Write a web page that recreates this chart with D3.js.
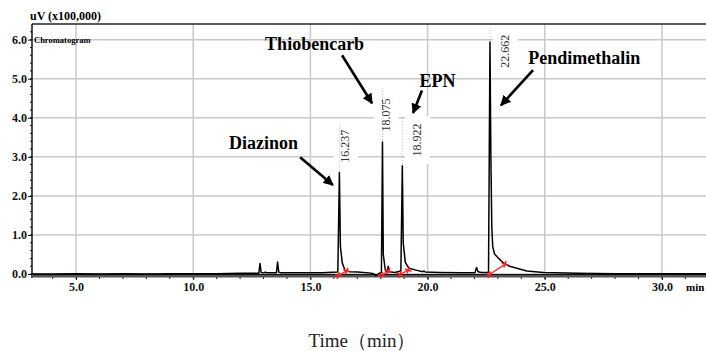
<!DOCTYPE html>
<html>
  <head>
    <meta charset="utf-8">
    <title>Chromatogram</title>
    <style>
      body { margin: 0; background: #fff; }
      svg { display: block; }
    </style>
  </head>
  <body>
    <div id="chart"></div>
    <script src="https://d3js.org/d3.v7.min.js"></script>
    <script>
      // trace: retention time (min) / signal (x100,000 uV)
      var times  = [3.12, 4.0, 5.0, 6.0, 7.0, 8.0, 9.0, 10.0, 11.0, 12.0,
                    12.8, 12.85, 12.9, 13.0, 13.07, 13.12, 13.55, 13.6, 13.65, 13.75,
                    14.5, 15.5, 16.17, 16.237, 16.28, 16.36, 16.48, 16.7, 17.0, 17.5,
                    17.7, 17.78, 17.88, 18.03, 18.075, 18.11, 18.2, 18.28, 18.32, 18.36,
                    18.6, 18.86, 18.922, 18.96, 19.05, 19.2, 19.5, 19.8, 19.85, 19.9,
                    20.5, 21.5, 22.02, 22.09, 22.15, 22.3, 22.6, 22.662, 22.7, 22.74,
                    22.78, 22.85, 23.0, 23.2, 23.5, 24.23, 24.94, 26.4, 28.0, 30.0, 31.88];
      var signal = [0.0, 0.0, 0.01, 0.0, 0.01, 0.0, 0.01, 0.01, 0.01, 0.02,
                    0.02, 0.27, 0.04, 0.03, 0.05, 0.03, 0.03, 0.31, 0.05, 0.03,
                    0.03, 0.03, 0.05, 2.6, 0.7, 0.28, 0.09, 0.06, 0.05, 0.03,
                    0.01, -0.04, 0.0, 0.05, 3.38, 0.5, 0.08, 0.06, 0.2, 0.06,
                    0.04, 0.08, 2.77, 0.8, 0.3, 0.15, 0.1, 0.06, 0.08, 0.05,
                    0.04, 0.03, 0.03, 0.17, 0.06, 0.04, 0.04, 5.94, 3.0, 1.2,
                    0.7, 0.52, 0.42, 0.3, 0.2, 0.08, 0.04, 0.02, 0.01, 0.01, 0.01];

      // identified peaks
      var compounds = ["Diazinon", "Thiobencarb", "EPN", "Pendimethalin"];
      var rt        = [16.237, 18.075, 18.922, 22.662];
      var apex      = [2.6, 3.38, 2.77, 5.94];
      var rtText    = ["16.237", "18.075", "18.922", "22.662"];

      // integration baseline (start / end of each peak)
      var startT = [16.19, 18.04, 18.82, 22.63],
          startV = [-0.04, -0.04, -0.01, -0.02],
          endT   = [16.55, 18.33, 19.18, 23.3],
          endV   = [0.08, 0.08, 0.1, 0.25];

      var xTicks = [5, 10, 15, 20, 25, 30];
      var yTicks = [0, 1, 2, 3, 4, 5, 6];

      var W = 706, H = 351;
      var pL = 32, pR = 706, pT = 24, pB = 276;

      var x = d3.scaleLinear().domain([3.12, 31.88]).range([pL, pR]);
      var y = d3.scaleLinear().domain([-0.05, 6.4]).range([pB, pT]);

      var svg = d3.select("#chart").append("svg")
          .attr("width", W).attr("height", H);

      var serif = "'Liberation Serif', 'Times New Roman', serif";

      // grid
      svg.append("g").selectAll("line").data(xTicks).enter().append("line")
          .attr("x1", d => x(d)).attr("x2", d => x(d))
          .attr("y1", pT).attr("y2", pB)
          .attr("stroke", "#c8c8c8").attr("stroke-width", 1.5);
      svg.append("g").selectAll("line").data(yTicks).enter().append("line")
          .attr("x1", pL).attr("x2", pR)
          .attr("y1", d => y(d)).attr("y2", d => y(d))
          .attr("stroke", "#c8c8c8").attr("stroke-width", 1.5);

      // frame
      svg.append("line").attr("x1", pL).attr("x2", pR).attr("y1", pT).attr("y2", pT)
          .attr("stroke", "#222").attr("stroke-width", 1.5);
      svg.append("line").attr("x1", pL).attr("x2", pL).attr("y1", pT).attr("y2", pB + 2)
          .attr("stroke", "#111").attr("stroke-width", 1.5);

      // y axis
      var yAxis = d3.axisLeft(y).tickValues(yTicks).tickSize(4).tickFormat(d3.format(".1f"));
      var gY = svg.append("g").attr("transform", "translate(" + pL + ",0)").call(yAxis);
      gY.select(".domain").remove();
      gY.selectAll("text").style("font-family", serif).style("font-weight", "bold")
          .style("font-size", "12px").attr("x", -5).attr("fill", "#111");
      gY.selectAll("line").attr("stroke", "#111");
      var yMinor = d3.range(0, 32).map(d => d * 0.2);
      svg.append("g").selectAll("line").data(yMinor).enter().append("line")
          .attr("x1", pL - 2).attr("x2", pL)
          .attr("y1", d => y(d)).attr("y2", d => y(d))
          .attr("stroke", "#111").attr("stroke-width", 1);

      // x axis
      var xAxis = d3.axisBottom(x).tickValues(xTicks).tickSize(3).tickFormat(d3.format(".1f"));
      var gX = svg.append("g").attr("transform", "translate(0," + (pB + 1) + ")").call(xAxis);
      gX.select(".domain").remove();
      gX.selectAll("text").style("font-family", serif).style("font-weight", "bold")
          .style("font-size", "12px").attr("y", 5).attr("fill", "#111");
      gX.selectAll("line").attr("stroke", "#111");
      svg.append("g").selectAll("line").data(d3.range(4, 32)).enter().append("line")
          .attr("x1", d => x(d)).attr("x2", d => x(d))
          .attr("y1", pB + 1).attr("y2", pB + 3)
          .attr("stroke", "#111").attr("stroke-width", 1);
      svg.append("line").attr("x1", pL).attr("x2", pR)
          .attr("y1", pB).attr("y2", pB)
          .attr("stroke", "#555").attr("stroke-width", 3);
      svg.append("line").attr("x1", pL).attr("x2", pR)
          .attr("y1", pB - 1.5).attr("y2", pB - 1.5)
          .attr("stroke", "#111").attr("stroke-width", 1);

      svg.append("text").attr("x", 686).attr("y", 291)
          .style("font-family", serif).style("font-weight", "bold").style("font-size", "11px")
          .text("min");
      svg.append("text").attr("x", 30).attr("y", 20)
          .style("font-family", serif).style("font-weight", "bold").style("font-size", "12px")
          .text("uV (x100,000)");
      svg.append("text").attr("x", 34).attr("y", 43)
          .style("font-family", serif).style("font-weight", "bold").style("font-size", "8.5px")
          .text("Chromatogram");

      // trace
      var pts = times.map((t, i) => [t, signal[i]]);
      svg.append("path").datum(pts)
          .attr("fill", "none").attr("stroke", "#000").attr("stroke-width", 1.5)
          .attr("stroke-linejoin", "round")
          .attr("d", d3.line().x(d => x(d[0])).y(d => y(d[1])));

      // integration baseline
      var integ = svg.append("g");
      rt.forEach(function(r, i) {
        integ.append("line")
            .attr("x1", x(startT[i])).attr("y1", y(startV[i]))
            .attr("x2", x(endT[i])).attr("y2", y(endV[i]))
            .attr("stroke", "#ff2020").attr("stroke-width", 1.3);
        [[startT[i], startV[i]], [endT[i], endV[i]]].forEach(function(p) {
          var g = integ.append("g")
              .attr("transform", "translate(" + x(p[0]) + "," + y(p[1]) + ") rotate(20)");
          g.append("line").attr("x1", -3.5).attr("x2", 3.5).attr("y1", 0).attr("y2", 0)
              .attr("stroke", "#ff2020").attr("stroke-width", 1.5);
          g.append("line").attr("x1", 0).attr("x2", 0).attr("y1", -3.5).attr("y2", 3.5)
              .attr("stroke", "#ff2020").attr("stroke-width", 1.5);
        });
      });

      // retention time labels (layout in data units, placed beside each apex)
      var rtLabelT = [16.48, 18.22, 19.55, 23.3],
          rtLabelV = [3.27, 4.07, 3.43, 5.7];
      var rtG = svg.append("g");
      rt.forEach(function(r, i) {
        var cx = x(rtLabelT[i]), cy = y(rtLabelV[i]);
        rtG.append("rect").attr("x", cx - 12).attr("y", cy - 24)
            .attr("width", 25).attr("height", 48).attr("fill", "#fff");
        rtG.append("line").attr("x1", x(r)).attr("x2", x(r))
            .attr("y1", y(apex[i]) - 2).attr("y2", cy - 24)
            .attr("stroke", "#bbb").attr("stroke-dasharray", "1,2");
        rtG.append("text")
            .attr("transform", "translate(" + (cx + 4) + "," + cy + ") rotate(-90)")
            .attr("text-anchor", "middle")
            .style("font-family", serif).style("font-size", "12px").attr("fill", "#333")
            .text(rtText[i]);
      });

      // compound names with arrows
      var nameT  = [13.0, 15.18, 20.42, 26.69],
          nameV  = [3.2, 5.73, 4.78, 5.37],
          tailT  = [14.56, 16.35, 19.76, 24.5],
          tailV  = [2.99, 5.6, 4.7, 5.22],
          headT  = [15.96, 17.63, 19.38, 23.13],
          headV  = [2.28, 4.37, 4.12, 4.32];

      svg.append("defs").append("marker")
          .attr("id", "arr").attr("viewBox", "0 0 10 10")
          .attr("refX", 9).attr("refY", 5)
          .attr("markerWidth", 4).attr("markerHeight", 4)
          .attr("orient", "auto")
        .append("path").attr("d", "M0,0 L10,5 L0,10 z").attr("fill", "#000");

      compounds.forEach(function(c, i) {
        svg.append("text").attr("x", x(nameT[i])).attr("y", y(nameV[i]))
            .attr("text-anchor", "middle")
            .style("font-family", serif).style("font-weight", "bold").style("font-size", "18px")
            .text(c);
        svg.append("line")
            .attr("x1", x(tailT[i])).attr("y1", y(tailV[i]))
            .attr("x2", x(headT[i])).attr("y2", y(headV[i]))
            .attr("stroke", "#000").attr("stroke-width", 2.6)
            .attr("marker-end", "url(#arr)");
      });

      svg.append("text").attr("x", 362).attr("y", 347)
          .attr("text-anchor", "middle")
          .style("font-family", serif).style("font-size", "19px").attr("fill", "#222")
          .text("Time（min）");
    </script>
  </body>
</html>
